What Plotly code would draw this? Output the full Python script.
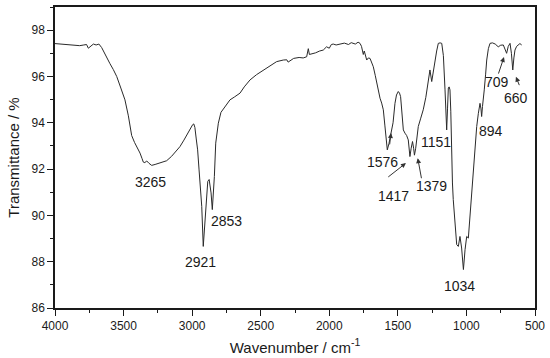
import plotly.graph_objects as go

wavenumber = [4000, 3950, 3900, 3860, 3820, 3790, 3770, 3757, 3740, 3720, 3700, 3680, 3660, 3640, 3620,
              3599, 3575, 3550, 3520, 3490, 3465, 3441, 3420, 3400, 3380, 3365, 3356, 3345, 3331, 3315,
              3295, 3270, 3247, 3220, 3186, 3150, 3120, 3089, 3060, 3030, 3010, 2996, 2988, 2980, 2970,
              2960, 2950, 2943, 2930, 2919, 2910, 2901, 2886, 2876, 2868, 2862, 2853, 2846, 2838, 2828,
              2821, 2809, 2790, 2773, 2750, 2724, 2690, 2651, 2620, 2578, 2530, 2481, 2430, 2384, 2335,
              2310, 2300, 2260, 2220, 2190, 2165, 2153, 2145, 2120, 2100, 2070, 2044, 2020, 2000, 1985,
              1971, 1950, 1920, 1890, 1860, 1840, 1810, 1790, 1776, 1765, 1752, 1745, 1727, 1715, 1703,
              1690, 1679, 1665, 1654, 1640, 1630, 1618, 1606, 1595, 1585, 1577, 1565, 1555, 1545, 1535,
              1521, 1510, 1497, 1488, 1480, 1470, 1460, 1448, 1436, 1424, 1417, 1412, 1403, 1393, 1385,
              1379, 1370, 1351, 1333, 1315, 1296, 1278, 1266, 1253, 1241, 1229, 1217, 1205, 1192, 1180,
              1168, 1156, 1150, 1144, 1138, 1132, 1126, 1120, 1114, 1108, 1102, 1096, 1083, 1071, 1059,
              1047, 1035, 1022, 1010, 998, 986, 974, 962, 950, 937, 925, 913, 901, 894, 889,
              883, 877, 870, 860, 852, 840, 828, 810, 790, 768, 750, 731, 718, 707, 695,
              682, 672, 662, 654, 646, 634, 622, 610, 597]
transmittance = [97.42, 97.40, 97.38, 97.36, 97.33, 97.36, 97.38, 97.22, 97.30, 97.40, 97.36, 97.40, 97.25, 97.00, 96.75,
                 96.55, 96.30, 96.00, 95.50, 94.99, 94.30, 93.45, 93.15, 92.95, 92.69, 92.45, 92.30, 92.28, 92.35, 92.25,
                 92.16, 92.20, 92.25, 92.30, 92.36, 92.55, 92.75, 92.97, 93.25, 93.55, 93.80, 93.92, 93.95, 93.80, 93.30,
                 92.83, 92.00, 91.55, 90.39, 88.66, 89.50, 90.39, 91.47, 91.55, 91.30, 90.97, 90.25, 90.90, 91.68, 93.12,
                 93.55, 93.98, 94.45, 94.60, 94.80, 94.99, 95.12, 95.28, 95.55, 95.85, 96.08, 96.28, 96.47, 96.64, 96.71,
                 96.72, 96.62, 96.78, 96.82, 96.80, 96.85, 97.20, 96.95, 96.98, 97.02, 97.10, 97.14, 97.28, 97.22, 97.38,
                 97.40, 97.36, 97.40, 97.44, 97.38, 97.46, 97.40, 97.48, 97.43, 97.30, 96.95, 97.10, 96.71, 96.80, 96.78,
                 96.55, 96.42, 96.05, 95.70, 95.40, 95.06, 94.85, 94.56, 93.90, 93.20, 92.83, 93.10, 93.40, 93.55, 94.00,
                 94.84, 95.20, 95.35, 95.28, 95.13, 94.50, 93.69, 93.55, 93.45, 93.26, 92.70, 92.54, 92.90, 93.19, 92.90,
                 92.60, 92.90, 93.84, 94.20, 94.56, 95.10, 95.70, 96.28, 95.78, 96.30, 96.78, 97.10, 97.43, 97.45, 97.43,
                 96.90, 95.42, 94.50, 93.69, 94.60, 95.50, 95.55, 95.42, 94.50, 92.11, 91.40, 90.68, 89.53, 88.74, 88.66,
                 89.09, 88.59, 87.66, 88.52, 89.09, 89.02, 89.96, 90.97, 92.11, 93.12, 93.84, 94.41, 94.84, 94.60, 94.27,
                 94.70, 94.99, 95.42, 96.10, 96.71, 97.20, 97.43, 97.45, 97.40, 97.28, 97.35, 97.36, 97.20, 97.00, 97.30,
                 97.43, 97.00, 96.28, 96.80, 97.14, 97.30, 97.36, 97.42, 97.36]

# plain peak labels
plain_labels = ["3265", "2921", "2853", "1151", "894", "1034"]
plain_x = [3307, 2939, 2753, 1220, 821, 1047]
plain_y = [91.45, 88.0, 89.74, 93.19, 93.66, 86.97]

# labels that have an arrow pointing at their band
arrow_labels = ["1576", "1417", "1379", "709", "660"]
arrow_label_x = [1612, 1535, 1253, 777, 635]
arrow_label_y = [92.30, 90.85, 91.25, 95.75, 95.06]
arrow_tail_x = [1561, 1581, 1326, 770, 610]
arrow_tail_y = [93.0, 91.61, 91.54, 96.06, 95.56]
arrow_tip_x = [1550, 1441, 1355, 726, 639]
arrow_tip_y = [93.56, 92.26, 92.47, 96.84, 95.99]

FONT = "Liberation Sans, Arial, sans-serif"

fig = go.Figure()
fig.add_trace(go.Scatter(x=wavenumber, y=transmittance, mode="lines",
                         line=dict(color="#2a2a2a", width=1), showlegend=False))

for t, x, y in zip(plain_labels + arrow_labels, plain_x + arrow_label_x, plain_y + arrow_label_y):
    fig.add_annotation(x=x, y=y, text=t, showarrow=False, xref="x", yref="y",
                       font=dict(family=FONT, size=14, color="#1a1a1a"))

for tx, ty, px, py in zip(arrow_tail_x, arrow_tail_y, arrow_tip_x, arrow_tip_y):
    fig.add_annotation(x=px, y=py, ax=tx, ay=ty, axref="x", ayref="y", xref="x", yref="y",
                       text="", showarrow=True, arrowhead=2, arrowsize=1, arrowwidth=1,
                       arrowcolor="#333333")

fig.update_layout(
    width=550, height=358,
    margin=dict(l=55, r=15, t=7, b=50),
    paper_bgcolor="white", plot_bgcolor="white",
    font=dict(family=FONT, size=12, color="#1a1a1a"),
    xaxis=dict(range=[4000, 500], tickvals=[4000, 3500, 3000, 2500, 2000, 1500, 1000, 500],
               ticks="outside", ticklen=6, tickwidth=1.2, tickcolor="#1a1a1a",
               showline=True, linecolor="#1a1a1a", linewidth=1.5, mirror=True,
               showgrid=False, zeroline=False, automargin=False,
               minor=dict(dtick=250, tick0=500, ticks="outside", ticklen=3, tickcolor="#1a1a1a", showgrid=False),
               title=dict(text="Wavenumber / cm<sup>-1</sup>", font=dict(size=15), standoff=10),
               tickfont=dict(size=12)),
    yaxis=dict(range=[86, 99], tick0=86, dtick=2,
               ticks="outside", ticklen=6, tickwidth=1.2, tickcolor="#1a1a1a",
               showline=True, linecolor="#1a1a1a", linewidth=1.5, mirror=True,
               showgrid=False, zeroline=False, automargin=False,
               minor=dict(dtick=1, tick0=86, ticks="outside", ticklen=3, tickcolor="#1a1a1a", showgrid=False),
               title=dict(text="Transmittance / %", font=dict(size=15), standoff=8),
               tickfont=dict(size=12)),
)

fig.write_html("out.html", config={"displayModeBar": False},
               post_script="document.body.style.margin='0';document.body.style.overflow='hidden';")
